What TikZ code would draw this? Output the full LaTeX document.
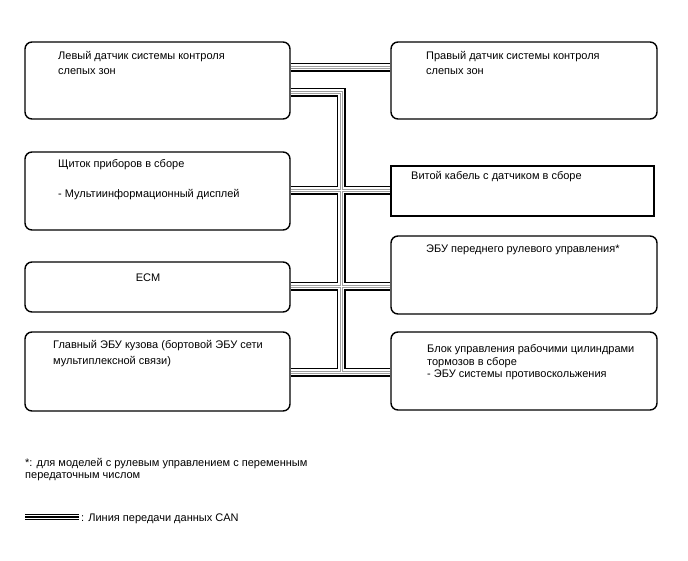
\documentclass[tikz,border=0pt]{standalone}
\usepackage{fontspec}
\setmainfont{Liberation Sans}
\begin{document}
\begin{tikzpicture}[x=1pt,y=-1pt,
  rbox/.style={draw=black,line width=1.4pt,rounded corners=7pt,inner sep=0pt,fill=none},
  sbox/.style={draw=black,line width=1.4pt,inner sep=0pt},
  lbl/.style={anchor=west,inner sep=0pt,font=\fontsize{11}{13}\selectfont},
  clbl/.style={inner sep=0pt,font=\fontsize{11}{13}\selectfont},
  busA/.style={draw=black,line width=9pt,line join=miter},
  busB/.style={draw=white,line width=5.2pt,line join=miter},
  busC/.style={draw=gray!75,line width=3pt,line join=miter},
  busD/.style={draw=white,line width=1pt,line join=miter},
  legline/.style={draw=black,line width=1.6pt}]
\useasboundingbox (0,0) rectangle (688,560);
% boxes
\node[rbox,minimum width=265pt,minimum height=77pt] (L1) at (157.5,80.5) {};
\node[rbox,minimum width=266pt,minimum height=77pt] (R1) at (524,80.5) {};
\node[rbox,minimum width=265pt,minimum height=78pt] (L2) at (157.5,191) {};
\node[rbox,minimum width=265pt,minimum height=50pt] (L3) at (157.5,287) {};
\node[sbox,minimum width=263pt,minimum height=50pt] (R2) at (522.5,191) {};
\node[rbox,minimum width=266pt,minimum height=78pt] (R3) at (524,275) {};
\node[rbox,minimum width=265pt,minimum height=79pt] (L4) at (157.5,371.5) {};
\node[rbox,minimum width=266pt,minimum height=78pt] (R4) at (524,371) {};
% bus coordinates
\coordinate (top) at (341,67);
\coordinate (t1) at (341,92);
\coordinate (c2) at (341,190);
\coordinate (c3) at (341,286);
\coordinate (tb) at (341,372);
\newcommand\canpaths[1]{%
  \path[#1] (top -| L1.east) -- (top -| R1.west);
  \path[#1] (t1 -| L1.east) -- (t1) -- (tb);
  \path[#1] (c2 -| L2.east) -- (c2 -| R2.west);
  \path[#1] (c3 -| L3.east) -- (c3 -| R3.west);
  \path[#1] (tb -| L4.east) -- (tb -| R4.west);
}
\canpaths{busA}
\canpaths{busB}
\canpaths{busC}
\canpaths{busD}
% texts
\node[lbl] (tL1a) at (58,57) {Левый датчик системы контроля};
\node[lbl] (tL1b) at (58,72) {слепых зон};
\node[lbl] (tR1a) at (426,57) {Правый датчик системы контроля};
\node[lbl] (tR1b) at (426,72) {слепых зон};
\node[lbl] (tL2a) at (58,165) {Щиток приборов в сборе};
\node[lbl] (tL2b) at (58,195) {- Мультиинформационный дисплей};
\node[clbl] (tL3) at (148,278) {ECM};
\node[lbl] (tR2) at (411,177) {Витой кабель с датчиком в сборе};
\node[lbl] (tR3) at (426,250) {ЭБУ переднего рулевого управления*};
\node[lbl] (tL4a) at (53,346) {Главный ЭБУ кузова (бортовой ЭБУ сети};
\node[lbl] (tL4b) at (53,362) {мультиплексной связи)};
\node[lbl] (tR4a) at (427,350) {Блок управления рабочими цилиндрами};
\node[lbl] (tR4b) at (427,362.5) {тормозов в сборе};
\node[lbl] (tR4c) at (427,375) {- ЭБУ системы противоскольжения};
\node[lbl] (fn1) at (25,464) {*: для моделей с рулевым управлением с переменным};
\node[lbl] (fn2) at (25,477) {передаточным числом};
% legend
\coordinate (lg1) at (25,514.5);
\coordinate (lg2) at (79,514.5);
\draw[legline] (lg1) -- (lg2);
\draw[legline] ([yshift=-2.5pt]lg1) -- ([yshift=-2.5pt]lg2);
\draw[legline] ([yshift=-5pt]lg1) -- ([yshift=-5pt]lg2);
\node[lbl] (legt) at (81,519) {: Линия передачи данных CAN};
\end{tikzpicture}
\end{document}
